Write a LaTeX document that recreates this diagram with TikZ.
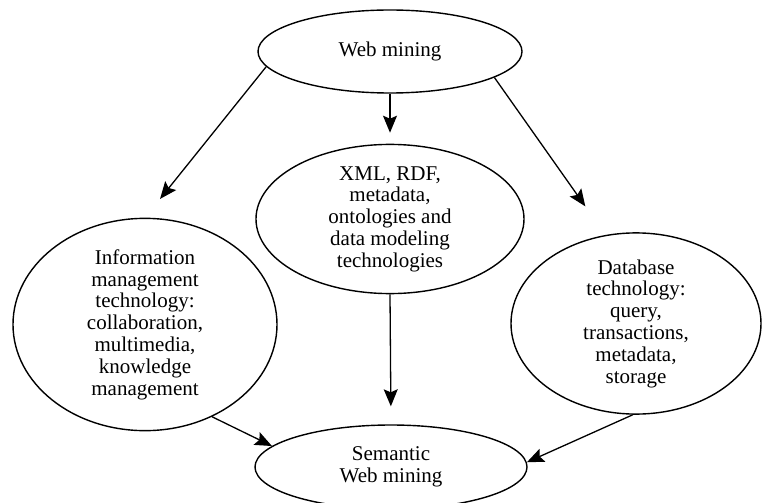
\documentclass[tikz,border=0pt]{standalone}
\usepackage{fontspec}
\setmainfont{Liberation Serif}
\usetikzlibrary{shapes.geometric,arrows.meta}

\begin{document}
\begin{tikzpicture}[x=1pt,y=1pt,yscale=-1,xscale=1,
  blob/.style={draw,ellipse,line width=1.4pt,inner sep=0pt,align=center,
    font=\fontsize{21}{21.8}\selectfont},
  flow/.style={line width=1.3pt,-{Stealth[length=17pt,width=14pt,inset=3pt]}}]
\useasboundingbox (0,0) rectangle (763,503);

%Shape: Ellipse [id:web]
\node [blob,minimum width=264,minimum height=83] (web) at (390,51.5) {Web mining};
%Shape: Ellipse [id:mid]
\node [blob,minimum width=268,minimum height=132] (mid) at (390,219) {XML, RDF,\\metadata,\\ontologies and\\data modeling\\technologies};
%Shape: Ellipse [id:info]
\node [blob,minimum width=264,minimum height=175] (info) at (145,324.5) {Information\\management\\technology:\\collaboration,\\multimedia,\\knowledge\\management};
%Shape: Ellipse [id:db]
\node [blob,minimum width=250,minimum height=157] (db) at (636,323.5) {Database\\technology:\\query,\\transactions,\\metadata,\\storage};
%Shape: Ellipse [id:sem]
\node [blob,minimum width=272,minimum height=84] (sem) at (391,467) {Semantic\\Web mining};

%Straight Lines [id:web-info]
\draw [flow,shorten >=24pt] (web.187) -- (info.north) ;
%Straight Lines [id:web-mid]
\draw [flow,shorten >=11pt] (web.south) -- (mid.north) ;
%Straight Lines [id:web-db]
\draw [flow,shorten >=35pt] (web.346) -- (db.109) ;
%Straight Lines [id:mid-sem]
\draw [flow,shorten >=18pt] (mid.south) -- (sem.north) ;
%Straight Lines [id:info-sem]
\draw [flow] (info.306) -- (sem.170) ;
%Straight Lines [id:db-sem]
\draw [flow] (db.268) -- (sem.2) ;

\end{tikzpicture}
\end{document}
